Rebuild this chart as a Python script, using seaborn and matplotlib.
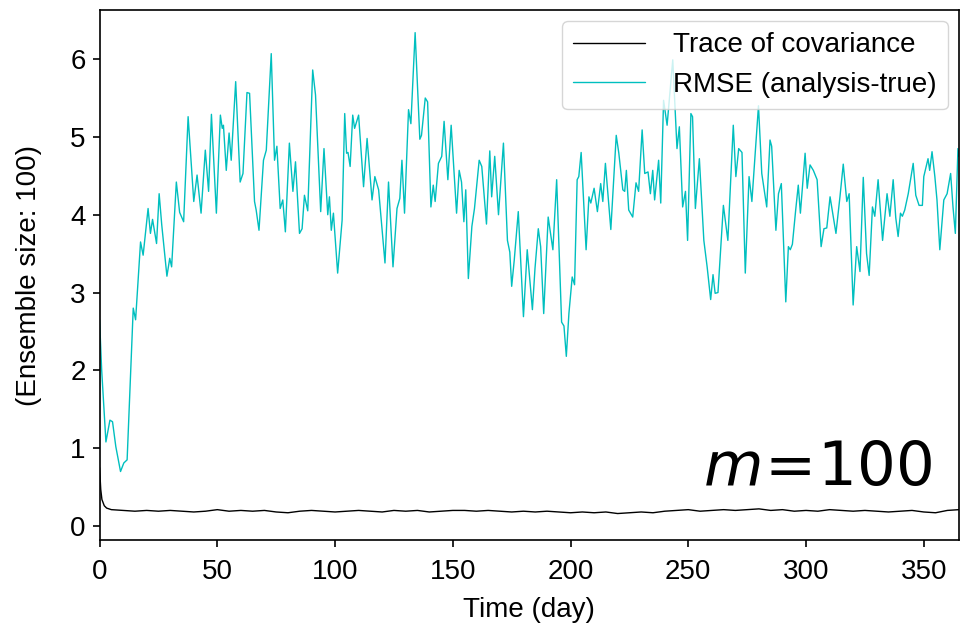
import numpy as np
import matplotlib
matplotlib.use("Agg")
import matplotlib.pyplot as plt
import seaborn as sns

# RMSE (analysis-true), traced vertices (day, value)
rmse_day = [0.0, 0.9, 2.7, 4.4, 5.5, 6.9, 8.9, 10.3, 11.7, 14.3, 15.3, 17.4, 18.5, 20.6, 21.6, 22.5,
            24.2, 25.3, 26.4, 28.6, 29.8, 30.6, 32.6, 34.0, 35.7, 37.6, 40.0, 41.4, 43.1, 44.9, 46.3,
            47.5, 49.6, 51.3, 52.1, 52.6, 53.8, 55.0, 55.9, 57.8, 59.7, 60.9, 62.6, 63.7, 65.8, 66.5,
            67.7, 69.6, 70.8, 72.9, 74.3, 75.3, 76.7, 77.8, 78.9, 80.6, 82.1, 83.2, 84.9, 86.0, 87.0,
            88.4, 90.5, 91.7, 93.9, 95.3, 96.9, 97.6, 98.4, 99.3, 101.1, 103.0, 104.1, 104.9, 105.5,
            106.4, 107.5, 108.3, 110.0, 112.1, 113.6, 115.7, 116.9, 118.5, 120.2, 121.2, 122.7, 124.6,
            126.3, 127.5, 128.4, 129.5, 131.2, 132.2, 134.0, 136.0, 136.7, 138.3, 139.3, 140.7, 141.7,
            142.5, 143.9, 145.3, 146.3, 147.9, 149.3, 151.6, 152.7, 153.7, 154.7, 155.5, 156.6, 158.1,
            159.2, 161.2, 162.3, 164.3, 165.7, 166.5, 167.8, 169.4, 171.5, 173.2, 174.2, 175.0, 176.1,
            177.8, 180.0, 181.6, 183.8, 184.9, 186.3, 187.3, 188.6, 190.5, 192.5, 194.1, 196.2, 197.2,
            198.2, 199.3, 200.7, 201.7, 202.8, 203.5, 204.5, 206.6, 207.8, 208.6, 210.0, 211.4, 212.8,
            213.7, 214.8, 217.1, 219.4, 220.5, 222.2, 223.0, 223.7, 224.7, 226.4, 227.8, 228.9, 230.4,
            231.5, 232.9, 233.9, 234.9, 235.7, 237.4, 238.3, 239.5, 241.0, 243.4, 245.2, 246.2, 247.6,
            248.8, 249.7, 251.1, 251.8, 253.0, 254.7, 256.6, 258.0, 259.5, 260.5, 261.4, 262.6, 264.9,
            266.8, 269.1, 270.2, 271.4, 272.8, 274.2, 275.8, 277.0, 279.1, 279.8, 281.2, 283.3, 284.7,
            285.4, 287.2, 288.3, 289.5, 291.4, 292.5, 293.3, 294.2, 295.6, 296.7, 297.6, 299.6, 300.5,
            301.7, 303.1, 304.7, 306.4, 307.6, 308.8, 310.2, 311.3, 312.7, 314.4, 315.8, 317.3, 318.3,
            320.0, 321.5, 322.9, 324.3, 325.7, 326.8, 328.2, 329.2, 330.6, 332.5, 334.4, 335.6, 337.0,
            338.1, 339.1, 340.1, 340.9, 341.9, 343.4, 345.5, 346.6, 348.0, 349.4, 350.0, 351.8, 352.5,
            353.5, 354.7, 355.6, 356.8, 358.5, 359.9, 361.4, 362.4, 363.4, 364.5, 365.0]
rmse_val = [2.65, 2.00, 1.08, 1.36, 1.34, 1.02, 0.70, 0.81, 0.85, 2.80, 2.65, 3.65, 3.48, 4.08, 3.76, 3.94,
            3.63, 4.27, 3.87, 3.21, 3.44, 3.33, 4.42, 4.03, 3.91, 5.26, 4.17, 4.51, 4.02, 4.83, 4.30,
            5.29, 4.02, 5.28, 5.11, 5.15, 4.57, 5.05, 4.70, 5.71, 4.42, 4.53, 5.57, 5.56, 4.17, 4.06,
            3.80, 4.70, 4.83, 6.07, 4.70, 4.88, 4.08, 4.19, 3.78, 4.92, 4.30, 4.68, 3.76, 3.82, 4.25,
            4.05, 5.86, 5.54, 4.04, 4.85, 4.00, 4.23, 3.80, 4.02, 3.25, 3.93, 5.30, 4.79, 4.80,
            4.62, 5.28, 5.11, 5.28, 4.36, 4.98, 4.19, 4.49, 4.32, 3.72, 3.38, 4.42, 3.33,
            4.08, 4.21, 4.70, 4.02, 5.35, 5.17, 6.34, 4.97, 5.02, 5.50, 5.45, 4.10, 4.38,
            4.17, 4.66, 4.75, 5.20, 4.45, 5.15, 4.02, 4.57, 4.42, 3.91, 4.32, 3.18, 3.85,
            4.08, 4.70, 4.62, 3.88, 4.82, 4.23, 4.75, 4.00, 4.92, 3.67, 3.52, 3.08, 3.42,
            4.04, 2.69, 3.55, 2.78, 3.31, 3.82, 3.59, 2.73, 3.97, 3.55, 4.45, 2.62, 2.57,
            2.18, 2.73, 3.20, 3.10, 4.45, 4.49, 4.80, 3.55, 4.23, 4.15, 4.34, 4.04, 4.40,
            4.17, 4.66, 3.81, 5.02, 4.79, 4.32, 4.30, 4.57, 4.06, 3.97, 4.41, 4.30, 5.09,
            4.53, 4.55, 4.27, 4.57, 4.19, 4.70, 4.15, 5.47, 5.15, 5.99, 4.85, 5.13, 4.10,
            4.30, 3.67, 5.30, 5.26, 4.08, 4.72, 3.67, 3.33, 2.91, 3.23, 2.99, 3.00, 4.12,
            3.67, 5.15, 4.49, 4.85, 4.80, 3.25, 4.49, 4.17, 5.09, 5.40, 4.53, 4.10, 4.96,
            4.88, 3.80, 4.27, 4.40, 2.88, 3.59, 3.55, 3.62, 4.06, 4.38, 4.02, 4.79, 4.34,
            4.64, 4.57, 4.45, 3.59, 3.82, 3.83, 4.23, 4.02, 3.76, 4.23, 4.65, 4.17, 4.27,
            2.84, 3.59, 3.27, 4.48, 3.50, 3.22, 4.10, 3.98, 4.45, 3.67, 4.27, 3.98, 4.45,
            3.96, 3.72, 4.02, 3.98, 4.06, 4.27, 4.66, 4.25, 4.12, 4.12, 4.49, 4.72, 4.57,
            4.81, 4.49, 4.19, 3.55, 4.19, 4.27, 4.53, 4.10, 3.76, 4.85, 4.75]

# Trace of covariance
trace_day = [0, 0.5, 1, 2, 3, 5, 10, 15, 20, 25, 30, 35, 40, 45, 50, 55, 60, 65, 70, 75, 80, 85, 90,
             95, 100, 105, 110, 115, 120, 125, 130, 135, 140, 145, 150, 155, 160, 165, 170, 175, 180,
             185, 190, 195, 200, 205, 210, 215, 220, 225, 230, 235, 240, 245, 250, 255, 260, 265, 270,
             275, 280, 285, 290, 295, 300, 305, 310, 315, 320, 325, 330, 335, 340, 345, 350, 355, 360, 365]
trace_val = [0.75, 0.47, 0.34, 0.26, 0.23, 0.21, 0.20, 0.19, 0.20, 0.19, 0.20, 0.19, 0.18, 0.19, 0.21,
             0.19, 0.20, 0.19, 0.20, 0.18, 0.17, 0.19, 0.20, 0.19, 0.18, 0.19, 0.20, 0.19, 0.18, 0.20,
             0.19, 0.20, 0.18, 0.19, 0.20, 0.20, 0.19, 0.20, 0.19, 0.18, 0.19, 0.18, 0.19, 0.18, 0.17,
             0.18, 0.17, 0.18, 0.16, 0.17, 0.18, 0.17, 0.19, 0.20, 0.21, 0.19, 0.20, 0.21, 0.20, 0.21,
             0.22, 0.20, 0.21, 0.19, 0.20, 0.19, 0.21, 0.20, 0.19, 0.20, 0.19, 0.18, 0.19, 0.20, 0.18,
             0.17, 0.20, 0.21]

sns.set_style("ticks")
plt.rcParams['font.family'] = ['Liberation Sans', 'DejaVu Sans']
plt.rcParams['text.color'] = 'black'
plt.rcParams['axes.labelcolor'] = 'black'
plt.rcParams['xtick.color'] = 'black'
plt.rcParams['ytick.color'] = 'black'

fig = plt.figure(figsize=(9.62, 6.29), dpi=100)
ax = fig.add_axes([0.1035, 0.1415, 0.8935, 0.8425])

sns.lineplot(x=trace_day, y=trace_val, ax=ax, color='black', lw=1.0, label='Trace of covariance')
sns.lineplot(x=rmse_day, y=rmse_val, ax=ax, color='c', lw=1.0, label='RMSE (analysis-true)')

ax.set_xlim(0, 365)
ax.set_ylim(-0.18, 6.63)
ax.set_xticks(np.arange(0, 351, 50))
ax.set_yticks(np.arange(0, 7, 1))
ax.tick_params(axis='x', labelsize=20, width=1.2, length=5, pad=9)
ax.tick_params(axis='y', labelsize=20, width=1.2, length=5, pad=5)
for s in ax.spines.values():
    s.set_color('black')
    s.set_linewidth(1.2)

ax.set_xlabel('Time (day)', fontsize=20, labelpad=8)
ax.set_ylabel('(Ensemble size: 100)', fontsize=20, labelpad=20)
ax.legend(loc='upper right', fontsize=20, handlelength=2.6, handletextpad=1.0,
          borderaxespad=0.4)

ax.text(0.969, 0.104, r'$m\!=\!100$', transform=ax.transAxes, ha='right', va='baseline',
        fontsize=44, color='black')

fig.savefig('out.png', dpi=100)
